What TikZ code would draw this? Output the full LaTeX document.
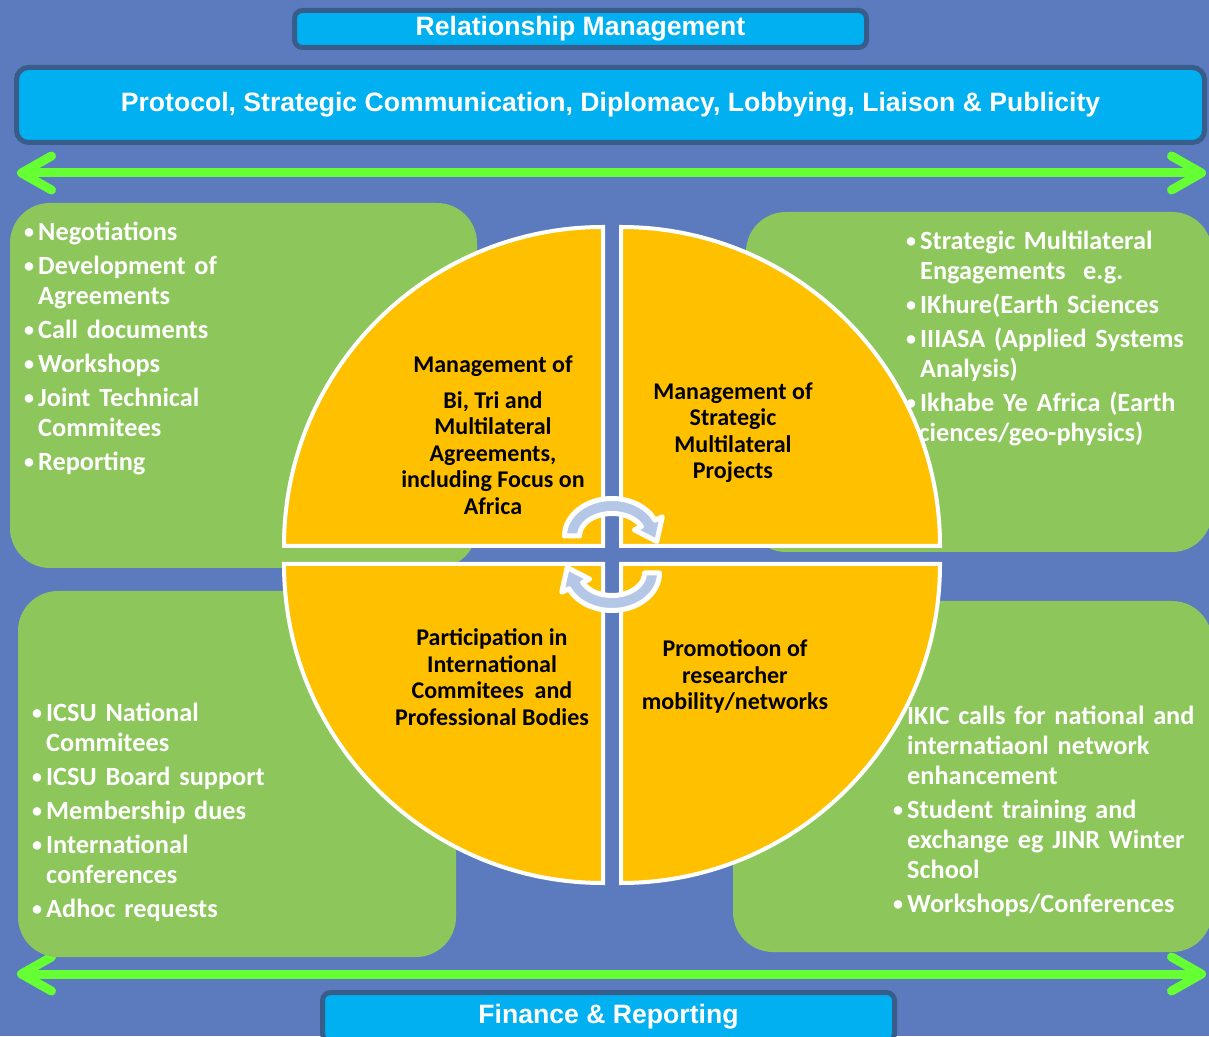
\documentclass[tikz,border=0pt]{standalone}
\usepackage{fontspec}
\setmainfont{Carlito}
\newfontfamily\arialfont{Liberation Sans}
\usetikzlibrary{arrows.meta}

\definecolor{bgblue}{HTML}{5B7BBE}
\definecolor{cyanbox}{HTML}{00B0F0}
\definecolor{boxline}{HTML}{385D8A}
\definecolor{panelgreen}{HTML}{8DC65B}
\definecolor{limegreen}{HTML}{66FF33}
\definecolor{quadgold}{HTML}{FFC000}
\definecolor{turnblue}{HTML}{B4C7E7}

% one bullet line with hanging indent
\newcommand{\bitem}[1]{\par\hangindent=14pt\hangafter=1\noindent\strut\makebox[14pt][l]{\raisebox{2pt}{\fontsize{20}{20}\selectfont•}}#1}

\begin{document}
\begin{tikzpicture}[
  x=1pt, y=1pt,
  hdrbox/.style={fill=cyanbox, draw=boxline, line width=5pt, rounded corners=8pt, inner sep=0,
    text=white, font=\arialfont\bfseries\fontsize{26.6}{30}\selectfont},
  panel/.style={fill=panelgreen, rounded corners=40pt, inner sep=0},
  bullets/.style={anchor=north west, inner sep=0, text width=420pt, align=left, text=white,
    font=\bfseries\fontsize{26.3}{30}\selectfont, execute at begin node={\setlength{\parskip}{4pt}}},
  quad/.style={fill=quadgold, draw=white, line width=4pt},
  quadtext/.style={align=center, inner sep=0, text=black, font=\bfseries\fontsize{24}{26.5}\selectfont},
  limearrow/.style={draw=limegreen, line width=9pt, <->, >={Straight Barb[round,length=30pt,width=34pt]}},
  turn/.style={draw=white, line width=5pt, fill=turnblue, line join=round}
]
  \useasboundingbox (0,0) rectangle (1209,1036);
  \fill[bgblue] (0,0) rectangle (1209,1036);

  % header and footer boxes
  \node[hdrbox, minimum width=572pt, minimum height=37pt] (relm) at (580.5,1007) {Relationship Management};
  \node[hdrbox, rounded corners=12pt, minimum width=1188pt, minimum height=75pt] (proto) at (610.5,931)
    {Protocol, Strategic Communication, Diplomacy, Lobbying, Liaison \& Publicity};
  \node[hdrbox, minimum width=572pt, minimum height=49pt] (fin) at (608.5,19) {Finance \& Reporting};

  \coordinate (topL) at (17,863);
  \coordinate (topR) at (1206,863);
  \coordinate (botL) at (17,62);
  \coordinate (botR) at (1206,62);
  \draw[limearrow] (topL) -- (topR);
  \draw[limearrow] (botL) -- (botR);

  % green panels
  \node[panel, minimum width=467pt, minimum height=365pt] (gTL) at (243.5,650.5) {};
  \node[panel, minimum width=466pt, minimum height=340pt] (gTR) at (979,654) {};
  \node[panel, minimum width=438pt, minimum height=366pt] (gBL) at (237,262) {};
  \node[panel, minimum width=479pt, minimum height=351pt] (gBR) at (972.5,259.5) {};

  \node[bullets] (tTL) at (24,830) {%
    \bitem{Negotiations}
    \bitem{Development of\newline Agreements}
    \bitem{Call documents}
    \bitem{Workshops}
    \bitem{Joint Technical\newline Commitees}
    \bitem{Reporting}};
  \node[bullets] (tTR) at (906,821) {%
    \bitem{Strategic Multilateral\newline Engagements~ e.g.}
    \bitem{IKhure(Earth Sciences}
    \bitem{IIIASA (Applied Systems\newline Analysis)}
    \bitem{Ikhabe Ye Africa (Earth\newline Sciences/geo-physics)}};
  \node[bullets] (tBL) at (32,349) {%
    \bitem{ICSU National\newline Commitees}
    \bitem{ICSU Board support}
    \bitem{Membership dues}
    \bitem{International\newline conferences}
    \bitem{Adhoc requests}};
  \node[bullets] (tBR) at (893,346) {%
    \bitem{IKIC calls for national and\newline internatiaonl network\newline enhancement}
    \bitem{Student training and\newline exchange eg JINR Winter\newline School}
    \bitem{Workshops/Conferences}};

  % the four quarters of the circle
  \draw[quad] (603,490) -- (284,490) arc[start angle=180, end angle=90, radius=319pt] -- cycle;
  \draw[quad] (621,490) -- (621,809) arc[start angle=90, end angle=0, radius=319pt] -- cycle;
  \draw[quad] (603,472) -- (603,153) arc[start angle=270, end angle=180, radius=319pt] -- cycle;
  \draw[quad] (621,472) -- (940,472) arc[start angle=0, end angle=-90, radius=319pt] -- cycle;

  \node[quadtext] (qTL) at (493,601) {Management of\\[9.5pt]Bi, Tri and\\Multilateral\\Agreements,\\including Focus on\\Africa};
  \node[quadtext] (qTR) at (733,603.5) {Management of\\Strategic\\Multilateral\\Projects};
  \node[quadtext] (qBL) at (492,359) {Participation in\\International\\Commitees~ and\\Professional Bodies};
  \node[quadtext] (qBR) at (735,359.5) {Promotioon of\\researcher\\mobility/networks};

  % turning arrows in the middle
  \begin{scope}[shift={(612,500)}]
    \draw[turn] (-47.5,0) arc[start angle=180, end angle=25, x radius=47.5pt, y radius=37.5pt]
      -- (50.3,19.2) -- (44.8,-5.4) -- (22.3,6.1) -- (29.45,9.51)
      arc[start angle=25, end angle=180, x radius=32.5pt, y radius=22.5pt] -- cycle;
  \end{scope}
  \begin{scope}[shift={(612,463)}]
    \draw[turn] (47.5,0) arc[start angle=0, end angle=-155, x radius=47.5pt, y radius=37.5pt]
      -- (-50.3,-19.2) -- (-44.8,5.4) -- (-22.3,-6.1) -- (-29.45,-9.51)
      arc[start angle=-155, end angle=0, x radius=32.5pt, y radius=22.5pt] -- cycle;
  \end{scope}
\end{tikzpicture}
\end{document}
